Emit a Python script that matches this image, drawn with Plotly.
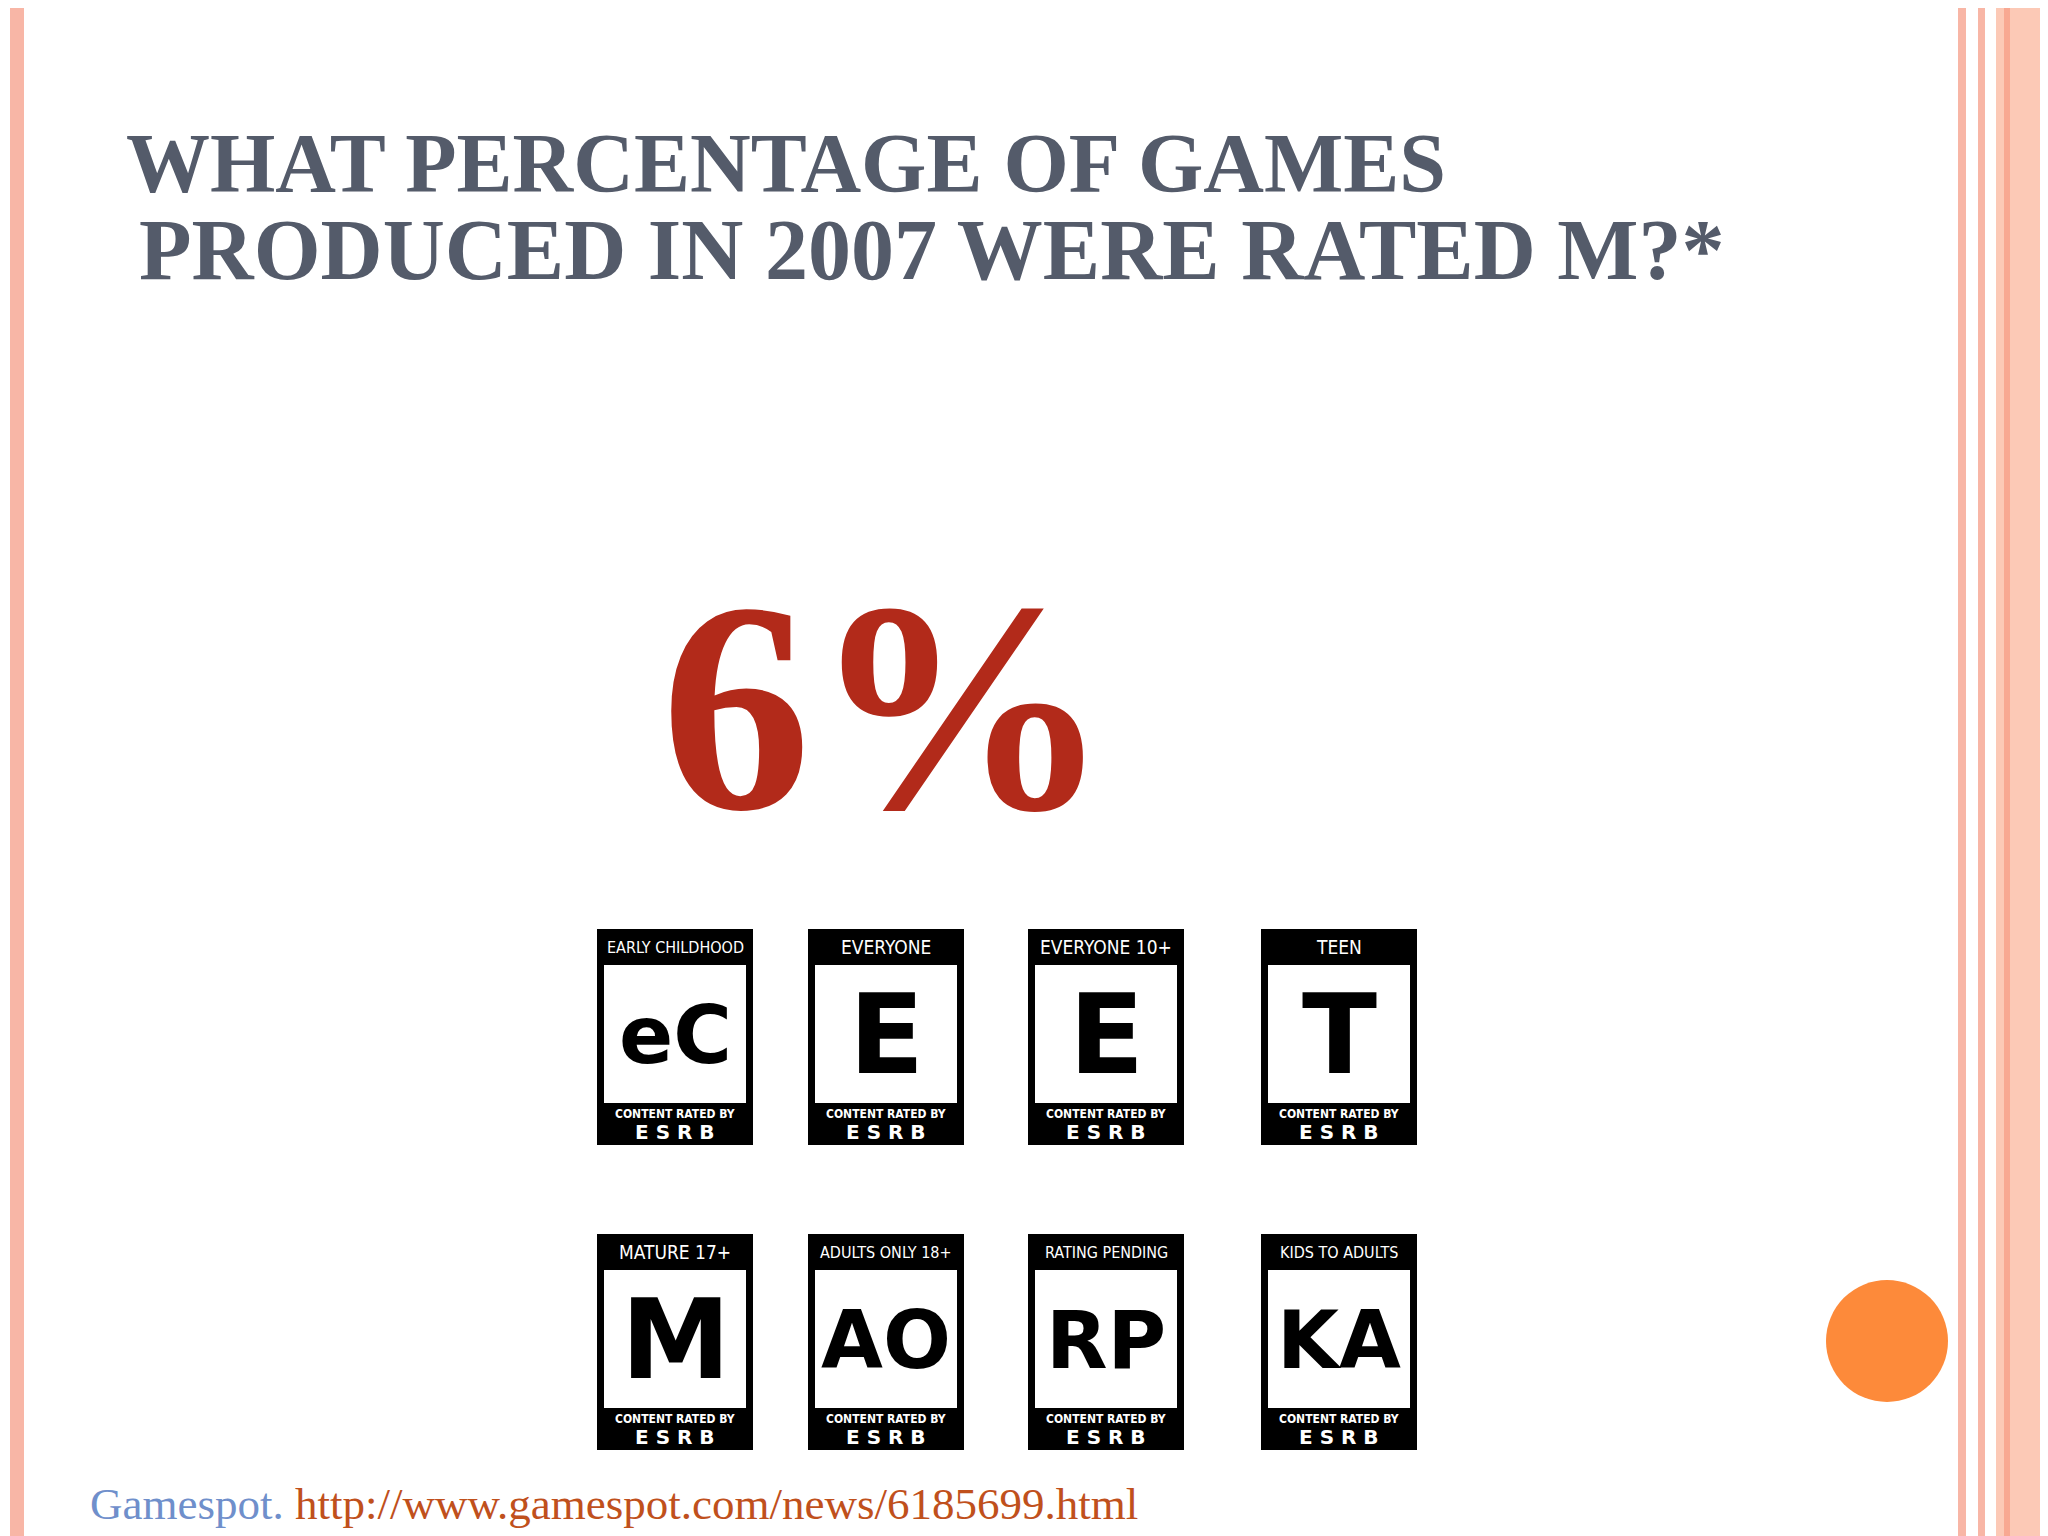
import plotly.graph_objects as go

title_lines = ["WHAT PERCENTAGE OF GAMES", "PRODUCED IN 2007 WERE RATED M?*"]
answer = "6%"
rating_names = ["EARLY CHILDHOOD", "EVERYONE", "EVERYONE 10+", "TEEN",
                "MATURE 17+", "ADULTS ONLY 18+", "RATING PENDING", "KIDS TO ADULTS"]
rating_letters = ["eC", "E", "E", "T", "M", "AO", "RP", "KA"]
source_name = "Gamespot."
source_url = "http://www.gamespot.com/news/6185699.html"

W, H = 2048, 1536
OFF = 8  # page body margin compensation
fig = go.Figure()
shapes = []
ann = []

# borders
shapes.append(dict(type="rect", x0=10, x1=24, y0=0, y1=H + 20, fillcolor="#f8b6a6", line_width=0))
shapes.append(dict(type="rect", x0=1958, x1=1966, y0=0, y1=H + 20, fillcolor="#f8b6a6", line_width=0))
shapes.append(dict(type="rect", x0=1978, x1=1985, y0=0, y1=H + 20, fillcolor="#f8b6a6", line_width=0))
shapes.append(dict(type="rect", x0=1996, x1=W + 20, y0=0, y1=H + 20, fillcolor="#fcc9b6", line_width=0))
shapes.append(dict(type="rect", x0=2004, x1=2010, y0=0, y1=H + 20, fillcolor="#f8a892", line_width=0))

# title
ann.append(dict(x=124, y=163, text="<b>" + title_lines[0] + "</b>", xanchor="left", yanchor="middle", showarrow=False,
                font=dict(family="Liberation Serif", size=84, color="#545b6a")))
ann.append(dict(x=137, y=250, text="<b>" + title_lines[1] + "</b>", xanchor="left", yanchor="middle", showarrow=False,
                font=dict(family="Liberation Serif", size=86, color="#545b6a")))

# answer
ann.append(dict(x=886, y=707, text="<b>" + answer + "</b>", showarrow=False, xanchor="center", yanchor="middle",
                font=dict(family="Liberation Serif", size=300, color="#b22a1a")))

# badges
cols = [675, 886, 1106, 1339]
rows = [(929, 1145), (1234, 1450)]
bw = 156
for i, (name, letter) in enumerate(zip(rating_names, rating_letters)):
    cx = cols[i % 4]
    y0, y1 = rows[i // 4]
    x0, x1 = cx - bw / 2, cx + bw / 2
    shapes.append(dict(type="rect", x0=x0, x1=x1, y0=y0, y1=y1, fillcolor="black", line_width=0))
    shapes.append(dict(type="rect", x0=x0 + 7, x1=x1 - 7, y0=y0 + 36, y1=y1 - 42, fillcolor="white", line_width=0))
    ann.append(dict(x=cx, y=y0 + 18, text=name, showarrow=False,
                    font=dict(family="DejaVu Sans Condensed", size=19 if len(name) < 13 else 16, color="white")))
    ann.append(dict(x=cx, y=(y0 + y1) / 2 - 2, text="<b>" + letter + "</b>", showarrow=False,
                    font=dict(family="DejaVu Sans", size=110 if len(letter) == 1 else 80, color="black")))
    ann.append(dict(x=cx, y=y1 - 31, text="<b>CONTENT RATED BY</b>", showarrow=False,
                    font=dict(family="DejaVu Sans Condensed", size=12, color="white")))
    ann.append(dict(x=cx, y=y1 - 13, text="<b>E S R B</b>", showarrow=False,
                    font=dict(family="DejaVu Sans", size=20, color="white")))

# orange circle
shapes.append(dict(type="circle", x0=1826, x1=1948, y0=1280, y1=1402, fillcolor="#fd8a3a", line_width=0))

# footer
ann.append(dict(x=88, y=1504, text='<span style="color:#6f8fcb">' + source_name + '</span> ' + source_url,
                xanchor="left", yanchor="middle", showarrow=False,
                font=dict(family="Liberation Serif", size=45, color="#c0501c")))

for a in ann:
    a.setdefault("xref", "x"); a.setdefault("yref", "y")
fig.update_layout(width=W, height=H, margin=dict(l=0, r=0, t=0, b=0),
                  paper_bgcolor="white", plot_bgcolor="white", shapes=shapes, annotations=ann,
                  xaxis=dict(range=[OFF, W + OFF], visible=False, fixedrange=True),
                  yaxis=dict(range=[H + OFF, OFF], visible=False, fixedrange=True), showlegend=False)
fig.write_html("out.html")
